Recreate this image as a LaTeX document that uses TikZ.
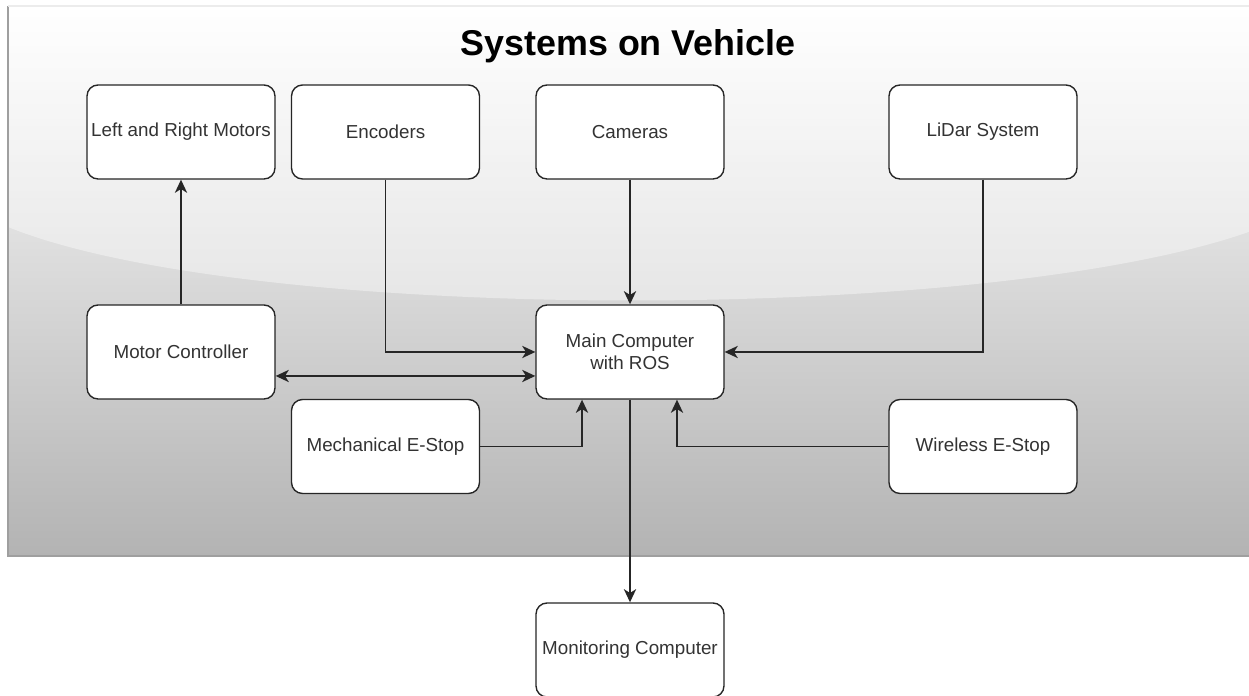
\documentclass[tikz,border=0pt]{standalone}
\usepackage{fontspec}
\setmainfont{Liberation Sans}
\usetikzlibrary{arrows.meta}
\definecolor{txtgray}{HTML}{333333}
\definecolor{panelbot}{HTML}{B3B3B3}
\tikzset{
  unit/.style={draw=black!85, line width=0.8pt, fill=white, rounded corners=0.22cm,
    minimum width=3.76cm, minimum height=1.88cm, inner sep=1pt, align=center,
    text=txtgray, font=\fontsize{10.7}{12.8}\selectfont},
  tip/.tip={Stealth[length=7.5pt,width=7pt,inset=2.2pt]},
  link/.style={draw=black!85, line width=0.8pt, -tip},
  dlink/.style={link, tip-tip}
}
\begin{document}
\begin{tikzpicture}[x=0.02cm, y=0.02cm]
  \useasboundingbox (0,0) rectangle (1249,696);
  % vehicle panel with gloss
  \shade[top color=white, bottom color=panelbot] (8,140) rectangle (1262,690);
  \fill[white, opacity=0.4] (8,690) -- (8,469) .. controls (250,371) and (1010,371) .. (1262,469) -- (1262,690) -- cycle;
  \draw[gray!75, line width=0.8pt] (1262,140) -- (8,140) -- (8,690);
  \draw[gray!15, line width=0.8pt] (8,690) -- (1262,690);
  \node[font=\bfseries\fontsize{20.4}{24}\selectfont, inner sep=0pt] (title) at (628,650) {Systems on Vehicle};

  % units
  \node[unit] (motors) at (181,564) {Left and Right Motors};
  \node[unit] (enc) at (385.5,564) {Encoders};
  \node[unit] (cam) at (630,564) {Cameras};
  \node[unit] (lidar) at (983,564) {LiDar System};
  \node[unit] (mctrl) at (181,344) {Motor Controller};
  \node[unit] (main) at (630,344) {Main Computer\\with ROS};
  \node[unit] (mstop) at (385.5,249.5) {Mechanical E-Stop};
  \node[unit] (wstop) at (983,249.5) {Wireless E-Stop};
  \node[unit] (mon) at (630,46) {Monitoring Computer};

  % connections
  \draw[link] (mctrl.north) -- (motors.south);
  \draw[link] (enc.south) |- (main.west);
  \draw[link] (cam.south) -- (main.north);
  \draw[link] (lidar.south) |- (main.east);
  \draw[dlink] ([yshift=-0.48cm]mctrl.east) -- ([yshift=-0.48cm]main.west);
  \draw[link] (mstop.east) -| ([xshift=-0.96cm]main.south);
  \draw[link] (wstop.west) -| ([xshift=0.94cm]main.south);
  \draw[link] (main.south) -- (mon.north);
\end{tikzpicture}
\end{document}
